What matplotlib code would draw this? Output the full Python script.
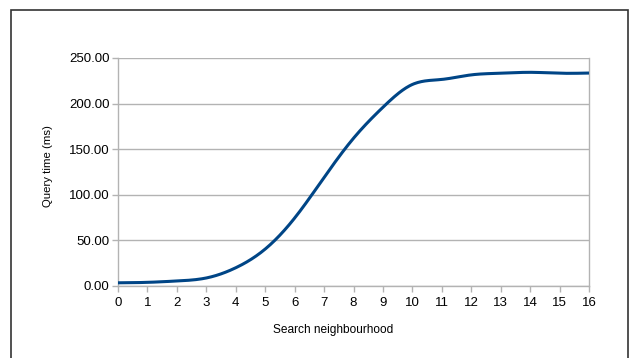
import numpy as np
import matplotlib.pyplot as plt
from matplotlib.patches import Rectangle

plt.rcParams['font.family'] = ['Liberation Sans', 'DejaVu Sans']

neighbourhood = [0, 1, 2, 3, 4, 5, 6, 7, 8, 9, 10, 11, 12, 13, 14, 15, 16]
query_ms = [3.5, 4, 5.5, 8.8, 20, 40.5, 74.5, 119, 162, 196, 221, 226.5, 231.5, 233.3, 234.3, 233.3, 233.5]
y_ticks = [0, 50, 100, 150, 200, 250]


# natural cubic spline, just for drawing the smooth line like the original
def spline(x, y, n=400):
    x = np.asarray(x, float)
    y = np.asarray(y, float)
    k = len(x)
    h = np.diff(x)
    A = np.zeros((k, k))
    b = np.zeros(k)
    A[0, 0] = A[-1, -1] = 1
    for i in range(1, k - 1):
        A[i, i - 1] = h[i - 1]
        A[i, i] = 2 * (h[i - 1] + h[i])
        A[i, i + 1] = h[i]
        b[i] = 3 * ((y[i + 1] - y[i]) / h[i] - (y[i] - y[i - 1]) / h[i - 1])
    c = np.linalg.solve(A, b)
    xs = np.linspace(x[0], x[-1], n)
    idx = np.clip(np.searchsorted(x, xs) - 1, 0, k - 2)
    dx = xs - x[idx]
    hi = h[idx]
    bb = (y[idx + 1] - y[idx]) / hi - hi * (2 * c[idx] + c[idx + 1]) / 3
    d = (c[idx + 1] - c[idx]) / (3 * hi)
    ys = y[idx] + bb * dx + c[idx] * dx ** 2 + d * dx ** 3
    return xs, ys


W, H = 633, 358
fig = plt.figure(figsize=(W / 100, H / 100), dpi=100)
ax = fig.add_axes([118 / W, 1 - 286 / H, (589 - 118) / W, (286 - 58) / H])

grid_col = '#b3b3b3'
xs, ys = spline(neighbourhood, query_ms)
ax.plot(xs, ys, color='#004586', lw=2.2, solid_capstyle='butt', zorder=3)

ax.set_xlim(0, 16)
ax.set_ylim(0, 250)
ax.set_xticks(neighbourhood)
ax.set_yticks(y_ticks)
ax.set_yticklabels(['%.2f' % v for v in y_ticks])
ax.yaxis.grid(True, color=grid_col, lw=1)
ax.set_axisbelow(True)
for s in ax.spines.values():
    s.set_color(grid_col)
    s.set_linewidth(1)
ax.spines['top'].set_visible(False)
ax.tick_params(axis='both', colors=grid_col, labelcolor='black', labelsize=9.5,
               length=4, width=1, direction='out')
ax.tick_params(axis='x', pad=4)
ax.tick_params(axis='y', pad=2)

# axis titles placed where the original puts them
fig.text(333.5 / W, 1 - 330 / H, 'Search neighbourhood', fontsize=8.6,
         ha='center', va='center')
fig.text(48 / W, 1 - 166 / H, 'Query time (ms)', fontsize=8.2,
         ha='center', va='center', rotation=90)

# outer frame around the whole chart
fig.patches.append(Rectangle((11 / W, -0.05), (628 - 11) / W, 1 - 10 / H + 0.05,
                             transform=fig.transFigure, fill=False,
                             edgecolor='#333333', lw=1.2))

plt.savefig('out.png', dpi=100)
